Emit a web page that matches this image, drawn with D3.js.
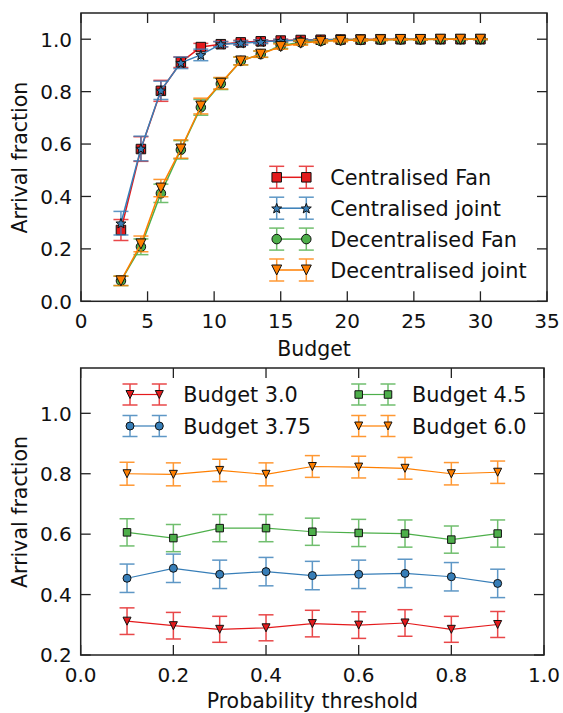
<!DOCTYPE html>
<html>
<head>
<meta charset="utf-8">
<script src="https://cdn.jsdelivr.net/npm/d3@7"></script>
<style>
  html, body { margin: 0; padding: 0; background: #fff; }
  svg { display: block; }
  text { font-family: "DejaVu Sans", sans-serif; fill: #111; }
</style>
</head>
<body>
<script>
// ---- Budget sweep (top panel) ----
const budgets = [3, 4.5, 6, 7.5, 9, 10.5, 12, 13.5, 15, 16.5, 18, 19.5, 21, 22.5, 24, 25.5, 27, 28.5, 30];
const centralisedFan      = [0.272, 0.581, 0.803, 0.912, 0.970, 0.981, 0.988, 0.992, 0.995, 0.997, 0.998, 0.999, 0.999, 1.000, 1.000, 1.000, 1.000, 1.000, 1.000];
const centralisedFanErr   = [0.040, 0.047, 0.040, 0.020, 0.014, 0.010, 0.008, 0.006, 0.005, 0.004, 0.003, 0.003, 0.002, 0.002, 0.002, 0.001, 0.001, 0.001, 0.001];
const centralisedJoint    = [0.298, 0.583, 0.805, 0.910, 0.940, 0.981, 0.985, 0.990, 0.994, 0.996, 0.998, 0.999, 0.999, 0.999, 1.000, 1.000, 1.000, 1.000, 1.000];
const centralisedJointErr = [0.045, 0.047, 0.035, 0.022, 0.022, 0.010, 0.008, 0.007, 0.005, 0.004, 0.003, 0.003, 0.002, 0.002, 0.002, 0.001, 0.001, 0.001, 0.001];
const decentralisedFan    = [0.078, 0.208, 0.412, 0.578, 0.740, 0.830, 0.917, 0.943, 0.975, 0.988, 0.993, 0.996, 0.997, 0.998, 0.999, 0.999, 1.000, 1.000, 1.000];
const decentralisedFanErr = [0.018, 0.030, 0.035, 0.035, 0.030, 0.022, 0.015, 0.012, 0.010, 0.007, 0.005, 0.004, 0.003, 0.003, 0.002, 0.002, 0.001, 0.001, 0.001];
const decentralisedJoint    = [0.078, 0.219, 0.432, 0.581, 0.745, 0.832, 0.917, 0.943, 0.972, 0.985, 0.992, 0.995, 0.997, 0.998, 0.999, 0.999, 1.000, 1.000, 1.000];
const decentralisedJointErr = [0.018, 0.030, 0.033, 0.035, 0.030, 0.022, 0.015, 0.012, 0.010, 0.008, 0.006, 0.005, 0.004, 0.003, 0.002, 0.002, 0.001, 0.001, 0.001];
const budgetTicks = [0, 5, 10, 15, 20, 25, 30, 35];
const fractionTicksTop = [0.0, 0.2, 0.4, 0.6, 0.8, 1.0];
const topLabels = ["Centralised Fan", "Centralised joint", "Decentralised Fan", "Decentralised joint"];

// ---- Probability threshold sweep (bottom panel) ----
const thresholds = [0.1, 0.2, 0.3, 0.4, 0.5, 0.6, 0.7, 0.8, 0.9];
const budget30  = [0.312, 0.297, 0.285, 0.290, 0.304, 0.299, 0.306, 0.285, 0.301];
const budget30Err  = [0.044, 0.044, 0.043, 0.043, 0.044, 0.044, 0.044, 0.043, 0.043];
const budget375 = [0.454, 0.487, 0.467, 0.476, 0.463, 0.467, 0.470, 0.459, 0.437];
const budget375Err = [0.047, 0.047, 0.047, 0.047, 0.047, 0.047, 0.047, 0.047, 0.047];
const budget45  = [0.606, 0.587, 0.620, 0.620, 0.608, 0.604, 0.602, 0.582, 0.602];
const budget45Err  = [0.045, 0.045, 0.045, 0.045, 0.045, 0.045, 0.045, 0.045, 0.045];
const budget60  = [0.800, 0.798, 0.811, 0.798, 0.824, 0.822, 0.818, 0.800, 0.805];
const budget60Err  = [0.038, 0.038, 0.037, 0.038, 0.036, 0.036, 0.036, 0.037, 0.037];
const thresholdTicks = [0.0, 0.2, 0.4, 0.6, 0.8, 1.0];
const fractionTicksBottom = [0.2, 0.4, 0.6, 0.8, 1.0];
const bottomLabels = ["Budget 3.0", "Budget 3.75", "Budget 4.5", "Budget 6.0"];

const RED = "#e41a1c", BLUE = "#377eb8", GREEN = "#4daf4a", ORANGE = "#ff7f00";

const W = 563, H = 713;
const svg = d3.select("body").append("svg").attr("width", W).attr("height", H);
svg.append("rect").attr("width", W).attr("height", H).attr("fill", "#fff");

// Marker path centred on its bounding box (size = full width)
function markerPath(kind, size) {
  const r = size / 2;
  if (kind === "square") return `M${-r},${-r}H${r}V${r}H${-r}Z`;
  if (kind === "circle") return d3.symbol(d3.symbolCircle, Math.PI * r * r)();
  if (kind === "triangleDown") return `M0,${r}L${-r},${-r}L${r},${-r}Z`;
  if (kind === "star") {
    const pts = [];
    for (let i = 0; i < 10; i++) {
      const rr = i % 2 === 0 ? r * 1.05 : r * 0.45;
      const a = -Math.PI / 2 + i * Math.PI / 5;
      pts.push([rr * Math.cos(a), rr * Math.sin(a) + r * 0.1]);
    }
    return "M" + pts.map(p => p.join(",")).join("L") + "Z";
  }
}

function drawErrorbar(g, x, y0, y1, color, capHalf, width) {
  const eg = g.append("g").attr("stroke", color).attr("stroke-width", width).attr("opacity", 0.8);
  eg.append("line").attr("x1", x).attr("x2", x).attr("y1", y0).attr("y2", y1);
  eg.append("line").attr("x1", x - capHalf).attr("x2", x + capHalf).attr("y1", y0).attr("y2", y0);
  eg.append("line").attr("x1", x - capHalf).attr("x2", x + capHalf).attr("y1", y1).attr("y2", y1);
}

function panel(cfg) {
  const x = d3.scaleLinear().domain(cfg.xDomain).range([cfg.left, cfg.right]);
  const y = d3.scaleLinear().domain(cfg.yDomain).range([cfg.bottom, cfg.top]);
  const g = svg.append("g");
  const tickLen = 10;

  // Inward ticks on all four sides
  const axes = g.append("g").attr("stroke", "#222").attr("stroke-width", 1.3);
  cfg.xTicks.forEach(t => {
    const px = x(t);
    axes.append("line").attr("x1", px).attr("x2", px).attr("y1", cfg.bottom).attr("y2", cfg.bottom - tickLen);
    axes.append("line").attr("x1", px).attr("x2", px).attr("y1", cfg.top).attr("y2", cfg.top + tickLen);
  });
  cfg.yTicks.forEach(t => {
    const py = y(t);
    axes.append("line").attr("x1", cfg.left).attr("x2", cfg.left + tickLen).attr("y1", py).attr("y2", py);
    axes.append("line").attr("x1", cfg.right).attr("x2", cfg.right - tickLen).attr("y1", py).attr("y2", py);
  });

  // Series: lines, errorbars, markers
  const plot = g.append("g");
  cfg.series.forEach(s => {
    const pts = cfg.xs.map((xv, i) => [x(xv), y(s.values[i])]);
    s.errors.forEach((e, i) => {
      drawErrorbar(plot, x(cfg.xs[i]), y(s.values[i] - e), y(s.values[i] + e), s.color, cfg.capHalf, cfg.errWidth);
    });
    plot.append("path").attr("d", d3.line()(pts)).attr("fill", "none")
      .attr("stroke", s.color).attr("stroke-width", cfg.lineWidth);
    plot.selectAll(null).data(pts).enter().append("path")
      .attr("transform", d => `translate(${d[0]},${d[1]})`)
      .attr("d", markerPath(s.marker, s.size))
      .attr("fill", s.color).attr("stroke", "#111").attr("stroke-width", 1);
  });

  // Frame
  g.append("rect").attr("x", cfg.left).attr("y", cfg.top)
    .attr("width", cfg.right - cfg.left).attr("height", cfg.bottom - cfg.top)
    .attr("fill", "none").attr("stroke", "#222").attr("stroke-width", 1.5);

  // Tick labels
  cfg.xTicks.forEach(t => {
    g.append("text").attr("x", x(t)).attr("y", cfg.bottom + 27)
      .attr("text-anchor", "middle").attr("font-size", 20).text(cfg.xFormat(t));
  });
  cfg.yTicks.forEach(t => {
    g.append("text").attr("x", cfg.left - 9).attr("y", y(t) + 7.3)
      .attr("text-anchor", "end").attr("font-size", 20).text(d3.format(".1f")(t));
  });

  // Axis titles
  g.append("text").attr("x", (cfg.left + cfg.right) / 2).attr("y", cfg.xTitleY)
    .attr("text-anchor", "middle").attr("font-size", 20.5).text(cfg.xTitle);
  g.append("text").attr("transform", `translate(26.5,${(cfg.top + cfg.bottom) / 2 + 0.5}) rotate(-90)`)
    .attr("text-anchor", "middle").attr("font-size", 20.5).text(cfg.yTitle);

  // Legend: errorbar handles with two markers joined by a line
  cfg.legend.forEach(item => {
    const s = cfg.series[item.index];
    const lg = g.append("g");
    const yy = item.y;
    const hx = [item.x, item.x + cfg.legendGap];
    hx.forEach(px => drawErrorbar(lg, px, yy - cfg.legendErr, yy + cfg.legendErr, s.color, cfg.capHalf, cfg.errWidth));
    lg.append("line").attr("x1", hx[0]).attr("x2", hx[1]).attr("y1", yy).attr("y2", yy)
      .attr("stroke", s.color).attr("stroke-width", cfg.lineWidth);
    hx.forEach(px => lg.append("path").attr("transform", `translate(${px},${yy})`)
      .attr("d", markerPath(s.marker, s.size)).attr("fill", s.color)
      .attr("stroke", "#111").attr("stroke-width", 1));
    lg.append("text").attr("x", item.x + cfg.legendGap + 24).attr("y", yy + 7.5)
      .attr("font-size", 20.8).text(item.label);
  });
}

panel({
  left: 81, right: 547, top: 13, bottom: 301.3,
  xDomain: [0, 35], yDomain: [0, 1.1],
  xTicks: budgetTicks, yTicks: fractionTicksTop, xFormat: d3.format("d"),
  xs: budgets, capHalf: 7.5, errWidth: 1.5, lineWidth: 1.5,
  xTitle: "Budget", xTitleY: 356, yTitle: "Arrival fraction",
  series: [
    { values: centralisedFan, errors: centralisedFanErr, color: RED, marker: "square", size: 9.5 },
    { values: centralisedJoint, errors: centralisedJointErr, color: BLUE, marker: "star", size: 10 },
    { values: decentralisedFan, errors: decentralisedFanErr, color: GREEN, marker: "circle", size: 9.5 },
    { values: decentralisedJoint, errors: decentralisedJointErr, color: ORANGE, marker: "triangleDown", size: 10 }
  ],
  legendGap: 29.6, legendErr: 11,
  legend: topLabels.map((label, i) => ({ label, index: i, x: 276.7, y: 177.3 + i * 30.9 }))
});

panel({
  left: 80.7, right: 544, top: 368, bottom: 655,
  xDomain: [0, 1], yDomain: [0.2, 1.15],
  xTicks: thresholdTicks, yTicks: fractionTicksBottom, xFormat: d3.format(".1f"),
  xs: thresholds, capHalf: 7.5, errWidth: 1.5, lineWidth: 1.2,
  xTitle: "Probability threshold", xTitleY: 707.5, yTitle: "Arrival fraction",
  series: [
    { values: budget30, errors: budget30Err, color: RED, marker: "triangleDown", size: 8 },
    { values: budget375, errors: budget375Err, color: BLUE, marker: "circle", size: 8 },
    { values: budget45, errors: budget45Err, color: GREEN, marker: "square", size: 7.5 },
    { values: budget60, errors: budget60Err, color: ORANGE, marker: "triangleDown", size: 8 }
  ],
  legendGap: 29.3, legendErr: 10.5,
  legend: bottomLabels.map((label, i) => ({
    label, index: i,
    x: i < 2 ? 130 : 358.7,
    y: 394.5 + (i % 2) * 31.5
  }))
});
</script>
</body>
</html>
